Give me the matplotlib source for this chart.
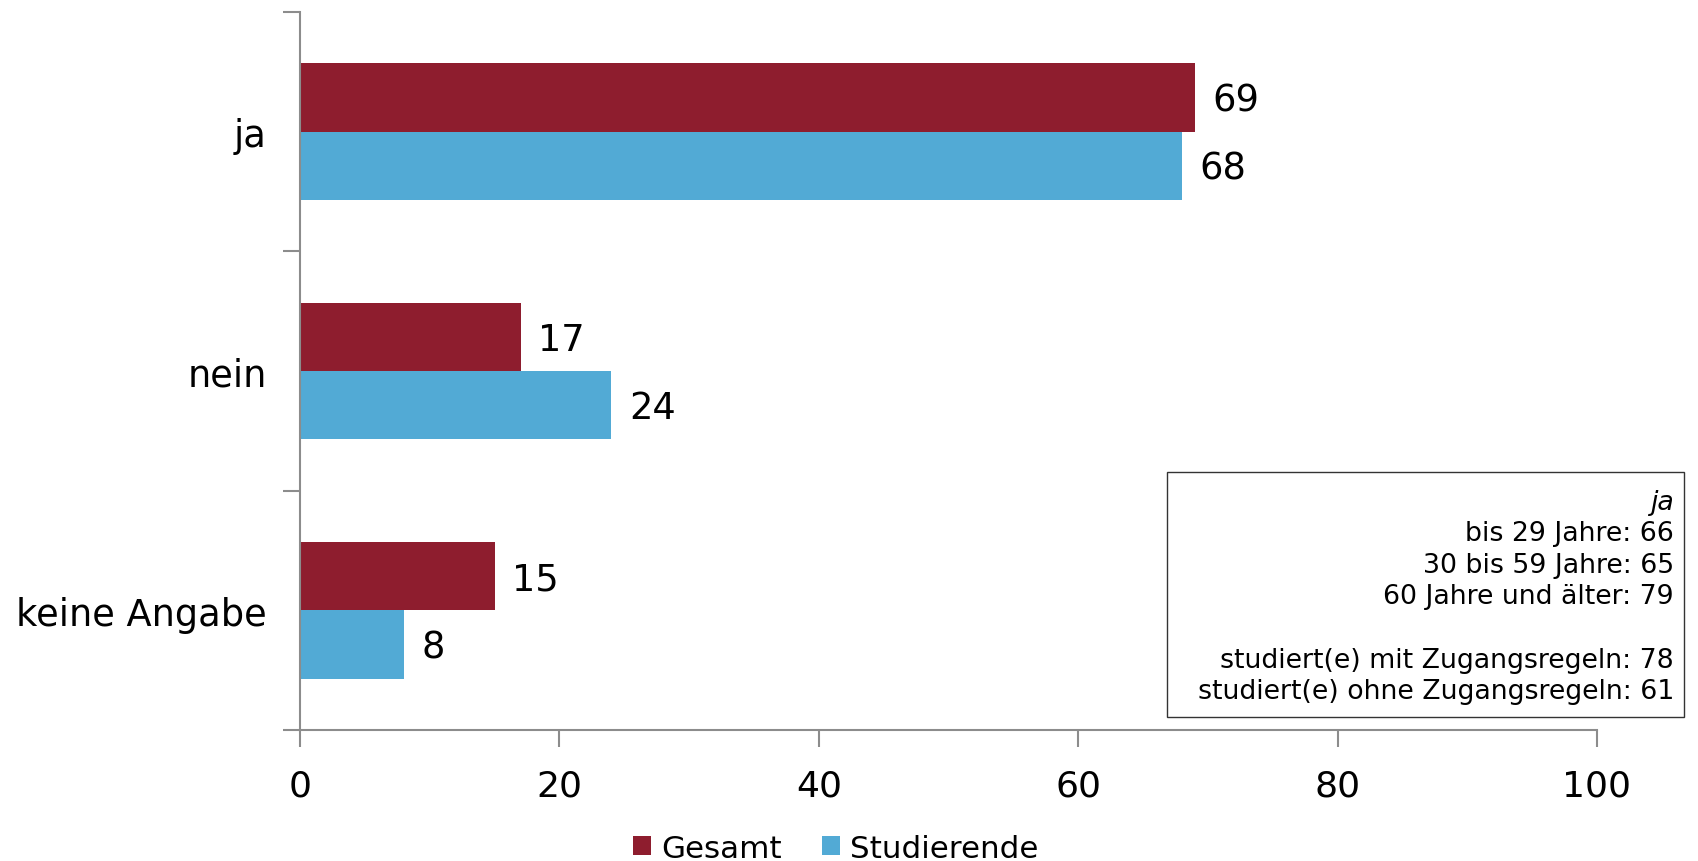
import matplotlib
matplotlib.use("Agg")
import matplotlib.pyplot as plt
from matplotlib.patches import Rectangle, Patch
import numpy as np

categories = ["ja", "nein", "keine Angabe"]
gesamt = [69, 17, 15]
studierende = [68, 24, 8]
series_names = ["Gesamt", "Studierende"]
info_lines = [
    "bis 29 Jahre: 66",
    "30 bis 59 Jahre: 65",
    "60 Jahre und älter: 79",
    "",
    "studiert(e) mit Zugangsregeln: 78",
    "studiert(e) ohne Zugangsregeln: 61",
]

red = "#8E1D2E"
blue = "#52AAD5"
grey = "#8C8C8C"

plt.rcParams["font.family"] = ["DejaVu Sans"]

fig = plt.figure(figsize=(16.98, 8.62), dpi=100)
ax = fig.add_axes([0.1767, 0.152, 0.7638, 0.833])

y = np.arange(len(categories))
h = 0.285
ax.barh(y - h / 2, gesamt, height=h, color=red)
ax.barh(y + h / 2, studierende, height=h, color=blue)

for yi, v in zip(y, gesamt):
    ax.text(v + 1.35, yi - h / 2 + 0.01, str(v), va="center", ha="left", fontsize=26.5)
for yi, v in zip(y, studierende):
    ax.text(v + 1.35, yi + h / 2 + 0.01, str(v), va="center", ha="left", fontsize=26.5)

ax.set_xlim(0, 100)
ax.set_ylim(2.5, -0.5)
ax.set_xticks([0, 20, 40, 60, 80, 100])
ax.tick_params(axis="x", labelsize=26, length=12, width=1.5, color=grey, pad=16)

# boundaries as major ticks, category names on minor ticks
ax.set_yticks([-0.5, 0.5, 1.5, 2.5])
ax.set_yticklabels([])
ax.tick_params(axis="y", which="major", length=12, width=1.5, color=grey)
ax.set_yticks(y, minor=True)
ax.set_yticklabels(categories, minor=True)
ax.tick_params(axis="y", which="minor", length=0, labelsize=26.5, pad=24)

for s in ["top", "right"]:
    ax.spines[s].set_visible(False)
for s in ["left", "bottom"]:
    ax.spines[s].set_color(grey)
    ax.spines[s].set_linewidth(1.5)

# note box with subgroup values
fig.patches.append(Rectangle((0.687, 0.167), 0.3045, 0.284, transform=fig.transFigure,
                             fill=False, edgecolor="#333333", linewidth=1.0))
fig.text(0.9859, 0.417, "ja", ha="right", va="center", fontsize=19.3, style="italic")
line_h = 31.6 / 862
for i, line in enumerate(info_lines):
    fig.text(0.9859, 0.417 - (i + 1) * line_h, line, ha="right", va="center", fontsize=19.3)

handles = [Patch(facecolor=red, label=series_names[0]),
           Patch(facecolor=blue, label=series_names[1])]
fig.legend(handles=handles, loc="center", bbox_to_anchor=(0.492, 0.015), ncol=2,
           frameon=False, fontsize=22.3, handlelength=0.6, handleheight=0.6,
           handletextpad=0.3, columnspacing=1.3)

fig.savefig("out.png", dpi=100)
